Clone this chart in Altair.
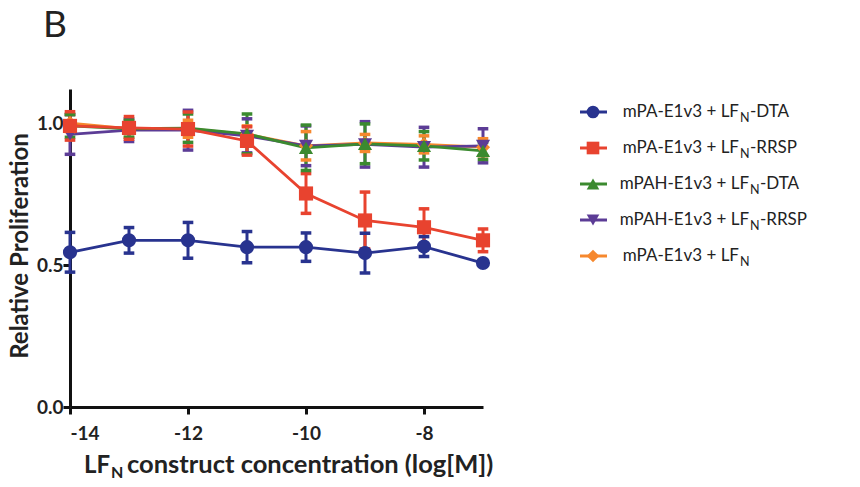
import altair as alt
import pandas as pd

# ---------------- data ----------------
x_vals = [-14, -13, -12, -11, -10, -9, -8, -7]

series_names = [
    "mPA-E1v3 + LFN-DTA",
    "mPA-E1v3 + LFN-RRSP",
    "mPAH-E1v3 + LFN-DTA",
    "mPAH-E1v3 + LFN-RRSP",
    "mPA-E1v3 + LFN",
]
series_colors = ["#28338f", "#e8432f", "#3b8a2f", "#5c3c96", "#f6882e"]
series_shapes = ["circle", "square", "triangle-up", "triangle-down", "diamond"]

blue_y = [0.545, 0.587, 0.587, 0.563, 0.563, 0.542, 0.565, 0.507]
blue_err = [0.07, 0.045, 0.063, 0.055, 0.05, 0.07, 0.035, 0.0]
red_y = [0.99, 0.983, 0.979, 0.937, 0.752, 0.657, 0.633, 0.587]
red_err = [0.05, 0.04, 0.06, 0.05, 0.07, 0.1, 0.065, 0.04]
green_y = [0.99, 0.98, 0.982, 0.962, 0.913, 0.927, 0.92, 0.902]
green_err = [0.04, 0.03, 0.05, 0.07, 0.08, 0.07, 0.05, 0.03]
purple_y = [0.96, 0.975, 0.975, 0.955, 0.92, 0.925, 0.915, 0.92]
purple_err = [0.07, 0.04, 0.07, 0.06, 0.07, 0.08, 0.07, 0.06]
orange_y = [1.0, 0.98, 0.98, 0.96, 0.92, 0.93, 0.925, 0.915]
orange_err = [0.03, 0.03, 0.03, 0.03, 0.05, 0.03, 0.03, 0.03]

legend_pre = ["mPA-E1v3 + LF", "mPA-E1v3 + LF", "mPAH-E1v3 + LF", "mPAH-E1v3 + LF", "mPA-E1v3 + LF"]
legend_post = ["-DTA", "-RRSP", "-DTA", "-RRSP", ""]

y_ticks = [0.0, 0.5, 1.0]
x_ticks = [-14, -12, -10, -8]

# draw order: blue, orange, purple, green, red
draw_order = [0, 4, 3, 2, 1]
all_y = [blue_y, red_y, green_y, purple_y, orange_y]
all_err = [blue_err, red_err, green_err, purple_err, orange_err]

rows = []
for k, si in enumerate(draw_order):
    for xv, yv, ev in zip(x_vals, all_y[si], all_err[si]):
        rows.append({"series": series_names[si], "ord": k, "x": xv, "y": yv, "err": ev})
df = pd.DataFrame(rows)

FONT = "Lato"
W, H = 413, 318
X0, Y0 = 70, 89  # plot-area origin in the page

color = alt.Color("series:N", scale=alt.Scale(domain=series_names, range=series_colors), legend=None)
shape = alt.Shape("series:N", scale=alt.Scale(domain=series_names, range=series_shapes), legend=None)

xs = alt.Scale(domain=[-14, -7], nice=False, zero=False)
ys = alt.Scale(domain=[0, 1.12], nice=False)

base = alt.Chart(df)

x_enc = alt.X("x:Q", scale=xs, axis=alt.Axis(values=x_ticks, title=None, labelExpr="datum.value + ''",
                                               labelFont=FONT, labelFontWeight="bold", labelFontSize=19,
                                               labelColor="#222", labelPadding=10, tickSize=7, tickWidth=3,
                                               domainWidth=3, domainColor="#111", tickColor="#111", grid=False))
y_enc = alt.Y("y:Q", scale=ys, axis=alt.Axis(values=y_ticks, title=None, labelExpr="format(datum.value, '.1f')",
                                              labelFont=FONT, labelFontWeight="bold", labelFontSize=19,
                                              labelColor="#222", labelPadding=0, tickSize=7, tickWidth=3,
                                              domainWidth=3, domainColor="#111", tickColor="#111", grid=False))

lines = base.mark_line(strokeWidth=2.8).encode(
    x=x_enc, y=y_enc, color=color, detail="series:N", order="x:Q"
)

errs = base.transform_filter("datum.err > 0").transform_calculate(
    lo="datum.y - datum.err", hi="datum.y + datum.err"
).mark_rule(strokeWidth=3).encode(x="x:Q", y="lo:Q", y2="hi:Q", color=color)

caps_hi = base.transform_filter("datum.err > 0").transform_calculate(
    hi="datum.y + datum.err", xa="datum.x - 0.09", xb="datum.x + 0.09"
).mark_rule(strokeWidth=3.5).encode(x="xa:Q", x2="xb:Q", y="hi:Q", color=color)

caps_lo = base.transform_filter("datum.err > 0").transform_calculate(
    lo="datum.y - datum.err", xa="datum.x - 0.09", xb="datum.x + 0.09"
).mark_rule(strokeWidth=3.5).encode(x="xa:Q", x2="xb:Q", y="lo:Q", color=color)

points = base.mark_point(filled=True, size=200, opacity=1).encode(
    x="x:Q", y="y:Q", color=color, shape=shape, order="ord:Q"
)

layers = [lines, errs, caps_hi, caps_lo, points]

dummy = pd.DataFrame({"a": [0]})

# ---------- legend (manual, to allow subscript N) ----------
for i in range(len(series_names)):
    cy = 23 + 36 * i
    pre_end = 669 + (10 if legend_pre[i].startswith("mPAH") else 0)
    col = series_colors[i]
    layers.append(alt.Chart(dummy).mark_rule(strokeWidth=3, color=col).encode(
        x=alt.value(510), x2=alt.value(537), y=alt.value(cy)))
    layers.append(alt.Chart(dummy).mark_point(filled=True, size=160, opacity=1, color=col,
                                              shape=series_shapes[i]).encode(
        x=alt.value(523), y=alt.value(cy)))
    layers.append(alt.Chart(dummy).mark_text(align="right", baseline="middle", font=FONT, fontSize=17,
                                             color="#222", text=legend_pre[i]).encode(
        x=alt.value(pre_end), y=alt.value(cy)))
    layers.append(alt.Chart(dummy).mark_text(align="left", baseline="middle", font=FONT, fontSize=12.5,
                                             color="#222", text="N").encode(
        x=alt.value(pre_end + 1), y=alt.value(cy + 6)))
    if legend_post[i]:
        layers.append(alt.Chart(dummy).mark_text(align="left", baseline="middle", font=FONT, fontSize=17,
                                                 color="#222", text=legend_post[i]).encode(
            x=alt.value(pre_end + 11), y=alt.value(cy)))

# ---------- axis titles & panel letter ----------
xt_y = 473 - Y0
layers.append(alt.Chart(dummy).mark_text(align="right", baseline="alphabetic", font=FONT, fontSize=24,
                                         fontWeight="bold", color="#222", text="LF").encode(
    x=alt.value(110 - X0), y=alt.value(xt_y)))
layers.append(alt.Chart(dummy).mark_text(align="left", baseline="alphabetic", font=FONT, fontSize=16,
                                         fontWeight="bold", color="#222", text="N").encode(
    x=alt.value(111 - X0), y=alt.value(xt_y + 5)))
layers.append(alt.Chart(dummy).mark_text(align="left", baseline="alphabetic", font=FONT, fontSize=25.5,
                                         fontWeight="bold", color="#222",
                                         text="construct concentration (log[M])").encode(
    x=alt.value(127 - X0), y=alt.value(xt_y)))
layers.append(alt.Chart(dummy).mark_text(angle=270, align="center", baseline="middle", font=FONT, fontSize=24,
                                         fontWeight="bold", color="#222", text="Relative Proliferation").encode(
    x=alt.value(21 - X0), y=alt.value(246 - Y0)))
layers.append(alt.Chart(dummy).mark_text(align="left", baseline="alphabetic", font=FONT, fontSize=37,
                                         color="#222", text="B").encode(
    x=alt.value(43 - X0), y=alt.value(37 - Y0)))

chart = alt.layer(*layers).properties(
    width=W, height=H,
    autosize=alt.AutoSizeParams(type="none"),
    padding={"left": X0, "top": Y0, "right": 860 - X0 - W, "bottom": 487 - Y0 - H},
    background="white",
).configure_view(stroke=None)

chart.save("out.html", embed_options={"renderer": "svg", "actions": False})
